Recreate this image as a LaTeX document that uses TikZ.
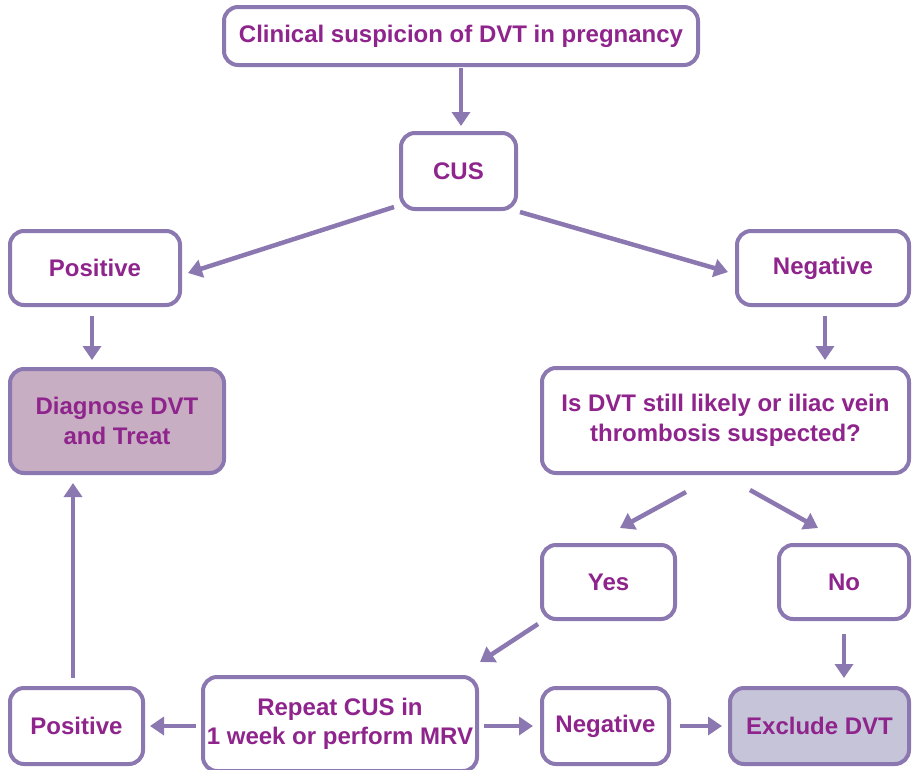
\documentclass[tikz,border=0pt]{standalone}
\usepackage{fontspec}
\setmainfont{Liberation Sans}
\usetikzlibrary{arrows.meta}
\definecolor{edgeC}{RGB}{140,120,176}
\definecolor{textC}{RGB}{142,36,140}
\definecolor{diagF}{RGB}{200,174,194}
\definecolor{exclF}{RGB}{197,196,216}
\tikzset{
  box/.style={draw=edgeC, line width=4pt, rounded corners=14pt, fill=white,
    text=textC, font=\fontsize{24}{29.5}\selectfont\bfseries,
    align=center, inner sep=0pt},
  arr/.style={draw=edgeC, line width=4.5pt,
    -{Triangle[width=18pt,length=14pt]}},
}
\begin{document}
\begin{tikzpicture}[x=1pt,y=-1pt]
\useasboundingbox (0,0) rectangle (913,769);

% boxes
\node[box, minimum width=474, minimum height=58] (clin) at (461,36) {Clinical suspicion of DVT in pregnancy};
\node[box, minimum width=115, minimum height=76] (cus) at (458.5,171) {CUS};
\node[box, minimum width=170, minimum height=74] (posT) at (95,268) {Positive};
\node[box, minimum width=172, minimum height=74] (negT) at (823,268) {Negative};
\node[box, fill=diagF, minimum width=214, minimum height=104] (diag) at (117,421) {Diagnose DVT\\and Treat};
\node[box, minimum width=367, minimum height=105] (is) at (725.5,420.5) {Is DVT still likely or iliac vein\\thrombosis suspected?};
\node[box, minimum width=133, minimum height=74] (yes) at (608.5,582) {Yes};
\node[box, minimum width=130, minimum height=74] (no) at (844,582) {No};
\node[box, minimum width=133, minimum height=76] (posB) at (76.5,726) {Positive};
\node[box, minimum width=274, minimum height=94] (rep) at (340,724) {Repeat CUS in\\1 week or perform MRV};
\node[box, minimum width=127, minimum height=76] (negB) at (605.5,726) {Negative};
\node[box, fill=exclF, minimum width=179, minimum height=76] (excl) at (819.5,726) {Exclude DVT};

% connectors
\draw[arr] ([shift={(0,1)}]clin.south) -- ([shift={(2.5,-5)}]cus.north);
\draw[arr] ([shift={(-5,-4)}]cus.south west) -- ([shift={(6,5)}]posT.east);
\draw[arr] ([shift={(2,1)}]cus.south east) -- ([shift={(-7,4)}]negT.west);
\draw[arr] ([shift={(-3,9)}]posT.south) -- ([shift={(-25,-7)}]diag.north);
\draw[arr] ([shift={(2,9)}]negT.south) -- ([shift={(99.5,-6)}]is.north);
\draw[arr] ([shift={(-39.5,17)}]is.south) -- ([shift={(11.5,-15)}]yes.north);
\draw[arr] ([shift={(24.5,15)}]is.south) -- ([shift={(-26,-15)}]no.north);
\draw[arr] ([shift={(-2,3)}]yes.south west) -- ([shift={(1,-13)}]rep.north east);
\draw[arr] ([shift={(0,13)}]no.south) -- ([shift={(24.5,-8)}]excl.north);
\draw[arr] ([shift={(-5,2)}]rep.west) -- ([shift={(5,0)}]posB.east);
\draw[arr] ([shift={(5,2)}]rep.east) -- ([shift={(-7,0)}]negB.west);
\draw[arr] ([shift={(9,0)}]negB.east) -- ([shift={(-6,0)}]excl.west);
\draw[arr] ([shift={(-3.5,-8)}]posB.north) -- ([shift={(-44,8)}]diag.south);
\end{tikzpicture}
\end{document}
